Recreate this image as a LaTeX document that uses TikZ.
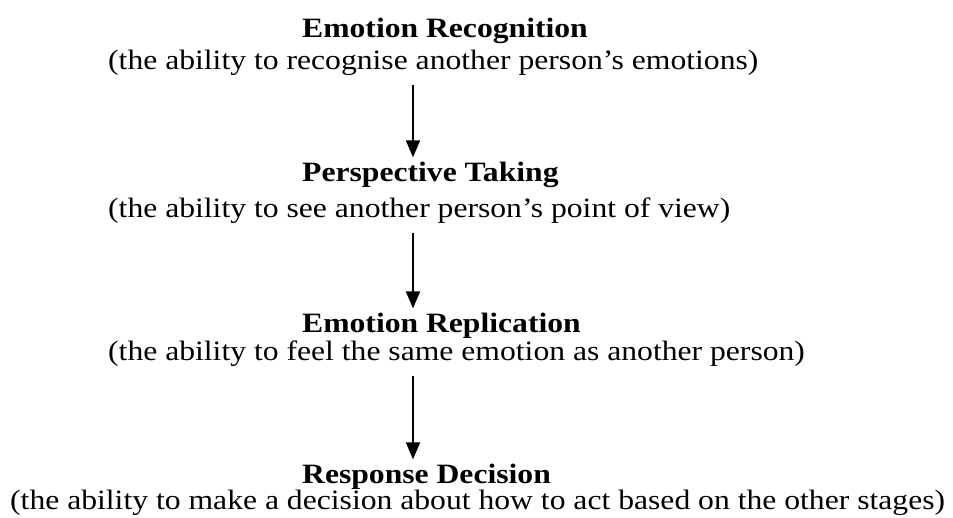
\documentclass[tikz,border=0pt]{standalone}
\usepackage{fontspec}
\setmainfont{Liberation Serif}[FakeStretch=1.13]
\usepackage{tikz}
\usetikzlibrary{arrows.meta,positioning,calc}

\tikzset{
  stagetitle/.style={anchor=base west, inner sep=0pt, font=\fontsize{28}{30}\selectfont\bfseries},
  stagenote/.style={anchor=base west, inner sep=0pt, font=\fontsize{28}{30}\selectfont},
  flow/.style={-{Triangle[width=14pt,length=17pt]}, line width=1.8pt, shorten <=10pt, shorten >=4pt}
}

\begin{document}
\begin{tikzpicture}[x=1pt,y=-1pt]
\useasboundingbox (0,0) rectangle (953,517);
% stages, titles flush left
\node[stagetitle] (rec) at (302,37) {Emotion Recognition};
\node[stagenote] (recnote) at (108,69) {(the ability to recognise another person’s emotions)};
\node[stagetitle] (persp) at (302,181) {Perspective Taking};
\node[stagenote] (perspnote) at (108,217) {(the ability to see another person’s point of view)};
\node[stagetitle] (repl) at (302,332) {Emotion Replication};
\node[stagenote] (replnote) at (108,360) {(the ability to feel the same emotion as another person)};
\node[stagetitle] (resp) at (302,483) {Response Decision};
\node[stagenote] (respnote) at (10,509) {(the ability to make a decision about how to act based on the other stages)};
% arrows down one axis
\coordinate (axis) at (413,0);
\foreach \from/\to in {recnote/persp, perspnote/repl, replnote/resp}
  \draw[flow] (\from.south -| axis) -- (\to.north -| axis);
\end{tikzpicture}
\end{document}
